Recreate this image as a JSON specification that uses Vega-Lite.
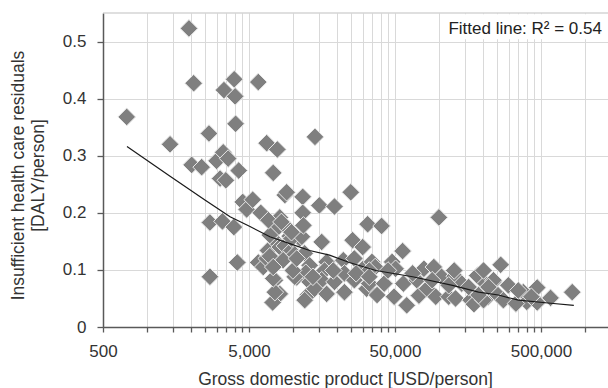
{
  "$schema": "https://vega.github.io/schema/vega-lite/v6.json",
  "width": 505,
  "height": 314,
  "autosize": {"type": "none"},
  "padding": {"left": 103, "top": 13, "right": 0, "bottom": 61},
  "background": "white",
  "config": {
    "view": {"stroke": null},
    "font": "Liberation Sans"
  },
  "datasets": {
    "points": [
      {"gdp": 727, "res": 0.368}, {"gdp": 1440, "res": 0.320}, {"gdp": 1940, "res": 0.523}, {"gdp": 2090, "res": 0.427},
      {"gdp": 2025, "res": 0.284}, {"gdp": 2370, "res": 0.280}, {"gdp": 2660, "res": 0.339}, {"gdp": 2700, "res": 0.183},
      {"gdp": 2700, "res": 0.088}, {"gdp": 3000, "res": 0.291}, {"gdp": 3290, "res": 0.185}, {"gdp": 3330, "res": 0.306},
      {"gdp": 3370, "res": 0.415}, {"gdp": 3170, "res": 0.260}, {"gdp": 3470, "res": 0.257}, {"gdp": 3600, "res": 0.295},
      {"gdp": 3960, "res": 0.434}, {"gdp": 4020, "res": 0.404}, {"gdp": 4050, "res": 0.356}, {"gdp": 3940, "res": 0.175},
      {"gdp": 4250, "res": 0.274}, {"gdp": 4160, "res": 0.113}, {"gdp": 4530, "res": 0.219}, {"gdp": 4820, "res": 0.206},
      {"gdp": 5300, "res": 0.223}, {"gdp": 5790, "res": 0.429}, {"gdp": 5790, "res": 0.113}, {"gdp": 6020, "res": 0.200},
      {"gdp": 6610, "res": 0.322}, {"gdp": 7820, "res": 0.311}, {"gdp": 7330, "res": 0.270}, {"gdp": 6260, "res": 0.105},
      {"gdp": 6610, "res": 0.120}, {"gdp": 6740, "res": 0.134}, {"gdp": 6950, "res": 0.124}, {"gdp": 7520, "res": 0.082},
      {"gdp": 8130, "res": 0.058}, {"gdp": 7260, "res": 0.043}, {"gdp": 7520, "res": 0.061}, {"gdp": 7330, "res": 0.085},
      {"gdp": 7740, "res": 0.148}, {"gdp": 8130, "res": 0.140}, {"gdp": 8800, "res": 0.142}, {"gdp": 7740, "res": 0.172},
      {"gdp": 9290, "res": 0.172}, {"gdp": 8130, "res": 0.192}, {"gdp": 8800, "res": 0.231}, {"gdp": 9060, "res": 0.236},
      {"gdp": 9510, "res": 0.159}, {"gdp": 9780, "res": 0.134}, {"gdp": 10290, "res": 0.127}, {"gdp": 10620, "res": 0.087},
      {"gdp": 11670, "res": 0.228}, {"gdp": 11670, "res": 0.200}, {"gdp": 11130, "res": 0.155}, {"gdp": 12040, "res": 0.129},
      {"gdp": 13020, "res": 0.108}, {"gdp": 12250, "res": 0.095}, {"gdp": 10290, "res": 0.088}, {"gdp": 13020, "res": 0.079},
      {"gdp": 12680, "res": 0.056}, {"gdp": 12040, "res": 0.047}, {"gdp": 14160, "res": 0.333}, {"gdp": 15170, "res": 0.213},
      {"gdp": 15740, "res": 0.149}, {"gdp": 17020, "res": 0.114}, {"gdp": 16470, "res": 0.099}, {"gdp": 15740, "res": 0.082},
      {"gdp": 14080, "res": 0.067}, {"gdp": 17020, "res": 0.058}, {"gdp": 19260, "res": 0.211}, {"gdp": 19260, "res": 0.079},
      {"gdp": 22130, "res": 0.117}, {"gdp": 22540, "res": 0.094}, {"gdp": 22540, "res": 0.061}, {"gdp": 24900, "res": 0.236},
      {"gdp": 25650, "res": 0.152}, {"gdp": 26360, "res": 0.120}, {"gdp": 26360, "res": 0.082}, {"gdp": 30060, "res": 0.140},
      {"gdp": 30270, "res": 0.102}, {"gdp": 32500, "res": 0.180}, {"gdp": 32000, "res": 0.067}, {"gdp": 33350, "res": 0.076},
      {"gdp": 34800, "res": 0.114}, {"gdp": 36600, "res": 0.105}, {"gdp": 37700, "res": 0.056}, {"gdp": 40500, "res": 0.177},
      {"gdp": 42180, "res": 0.076}, {"gdp": 47800, "res": 0.114}, {"gdp": 50500, "res": 0.102}, {"gdp": 49340, "res": 0.053},
      {"gdp": 56400, "res": 0.133}, {"gdp": 57100, "res": 0.076}, {"gdp": 60200, "res": 0.038}, {"gdp": 70600, "res": 0.082},
      {"gdp": 73000, "res": 0.055}, {"gdp": 78950, "res": 0.102}, {"gdp": 83100, "res": 0.067}, {"gdp": 92340, "res": 0.105},
      {"gdp": 95200, "res": 0.053}, {"gdp": 100000, "res": 0.192}, {"gdp": 104300, "res": 0.088}, {"gdp": 116800, "res": 0.053},
      {"gdp": 128300, "res": 0.089}, {"gdp": 130000, "res": 0.050}, {"gdp": 143500, "res": 0.076}, {"gdp": 165000, "res": 0.047},
      {"gdp": 173800, "res": 0.040}, {"gdp": 183000, "res": 0.090}, {"gdp": 209000, "res": 0.076}, {"gdp": 218600, "res": 0.053},
      {"gdp": 249000, "res": 0.058}, {"gdp": 265000, "res": 0.109}, {"gdp": 236500, "res": 0.079}, {"gdp": 299100, "res": 0.073},
      {"gdp": 202200, "res": 0.047}, {"gdp": 276600, "res": 0.047}, {"gdp": 378400, "res": 0.061}, {"gdp": 400000, "res": 0.044},
      {"gdp": 471500, "res": 0.069}, {"gdp": 471500, "res": 0.043}, {"gdp": 582000, "res": 0.051}, {"gdp": 819000, "res": 0.061},
      {"gdp": 33350, "res": 0.099}, {"gdp": 44800, "res": 0.099}, {"gdp": 66100, "res": 0.094}, {"gdp": 89900, "res": 0.082},
      {"gdp": 116800, "res": 0.073}, {"gdp": 159800, "res": 0.070}, {"gdp": 186900, "res": 0.056}, {"gdp": 127300, "res": 0.099},
      {"gdp": 202200, "res": 0.099}, {"gdp": 236500, "res": 0.082}, {"gdp": 218600, "res": 0.070}, {"gdp": 337000, "res": 0.041},
      {"gdp": 430000, "res": 0.053}, {"gdp": 349900, "res": 0.064}, {"gdp": 10000, "res": 0.099}, {"gdp": 13700, "res": 0.088},
      {"gdp": 18900, "res": 0.099}, {"gdp": 27100, "res": 0.094}, {"gdp": 33350, "res": 0.088}, {"gdp": 8570, "res": 0.117},
      {"gdp": 10620, "res": 0.120}, {"gdp": 7330, "res": 0.105}, {"gdp": 9780, "res": 0.155}, {"gdp": 6950, "res": 0.161},
      {"gdp": 11520, "res": 0.158}, {"gdp": 6800, "res": 0.187}, {"gdp": 8340, "res": 0.184}, {"gdp": 11800, "res": 0.178},
      {"gdp": 9780, "res": 0.166}
    ],
    "fit": [
      {"gdp": 730, "res": 0.316}, {"gdp": 1440, "res": 0.264}, {"gdp": 2510, "res": 0.222}, {"gdp": 3710, "res": 0.193},
      {"gdp": 5080, "res": 0.176}, {"gdp": 6950, "res": 0.158}, {"gdp": 9510, "res": 0.146}, {"gdp": 13020, "res": 0.134},
      {"gdp": 17810, "res": 0.126}, {"gdp": 24370, "res": 0.113}, {"gdp": 37000, "res": 0.099}, {"gdp": 66100, "res": 0.088},
      {"gdp": 124000, "res": 0.073}, {"gdp": 186900, "res": 0.061}, {"gdp": 255700, "res": 0.056}, {"gdp": 349900, "res": 0.047},
      {"gdp": 559900, "res": 0.042}, {"gdp": 840000, "res": 0.038}
    ]
  },
  "layer": [
    {
      "data": {"name": "points"},
      "mark": {"type": "point", "shape": "diamond", "size": 310, "filled": true, "fill": "#7f7f7f", "stroke": "#e8e8e8", "strokeWidth": 1, "opacity": 1},
      "encoding": {
        "x": {
          "field": "gdp",
          "type": "quantitative",
          "scale": {"type": "log", "domain": [500, 1440000], "nice": false},
          "axis": {
            "title": "Gross domestic product [USD/person]",
            "values": [500, 1000, 1500, 2000, 2500, 3000, 3500, 4000, 4500, 5000, 10000, 15000, 20000, 25000, 30000, 35000, 40000, 45000, 50000, 100000, 150000, 200000, 250000, 300000, 350000, 400000, 450000, 500000, 1000000],
            "labelExpr": "indexof([500, 5000, 50000, 500000], datum.value) >= 0 ? format(datum.value, ',') : ''",
            "labelOverlap": false,
            "labelFlush": false,
            "grid": true,
            "gridColor": "#d9d9d9",
            "gridWidth": 1,
            "domainColor": "#595959",
            "domainWidth": 1.5,
            "tickColor": "#595959",
            "tickWidth": 1.3,
            "tickSize": 5,
            "labelFontSize": 17,
            "labelColor": "#333333",
            "labelBaseline": "alphabetic",
            "labelPadding": 24,
            "titleFontSize": 17.5,
            "titleFontWeight": "normal",
            "titleColor": "#333333",
            "titleX": 242,
            "titleY": 57,
            "titleAlign": "center",
            "titleBaseline": "alphabetic"
          }
        },
        "y": {
          "field": "res",
          "type": "quantitative",
          "scale": {"domain": [0, 0.55], "nice": false},
          "axis": {
            "title": ["Insufficient health care residuals", "[DALY/person]"],
            "values": [0, 0.1, 0.2, 0.3, 0.4, 0.5],
            "format": ".1~f",
            "grid": true,
            "gridColor": "#d9d9d9",
            "gridWidth": 1,
            "domainColor": "#595959",
            "domainWidth": 1.5,
            "tickColor": "#595959",
            "tickWidth": 1.3,
            "tickSize": 6,
            "labelFontSize": 17,
            "labelColor": "#333333",
            "labelPadding": 11,
            "titleFontSize": 17.5,
            "titleFontWeight": "normal",
            "titleColor": "#333333",
            "titleLineHeight": 20,
            "titleX": -80,
            "titleY": 162,
            "titleAngle": 270,
            "titleAlign": "center",
            "titleBaseline": "alphabetic"
          }
        }
      }
    },
    {
      "data": {"name": "fit"},
      "mark": {"type": "line", "color": "#1a1a1a", "strokeWidth": 1.2},
      "encoding": {
        "x": {"field": "gdp", "type": "quantitative"},
        "y": {"field": "res", "type": "quantitative"}
      }
    },
    {
      "data": {"values": [{"label": "Fitted line: R² = 0.54"}]},
      "mark": {"type": "rect", "fill": "white"},
      "encoding": {
        "x": {"datum": 107000},
        "x2": {"datum": 1440000},
        "y": {"datum": 0.504},
        "y2": {"datum": 0.548}
      }
    },
    {
      "data": {"values": [{"label": "Fitted line: R² = 0.54"}]},
      "mark": {"type": "rule", "color": "#bfbfbf", "strokeWidth": 1},
      "encoding": {
        "y": {"datum": 0.55}
      }
    },
    {
      "data": {"values": [{"label": "Fitted line: R² = 0.54"}]},
      "mark": {"type": "text", "align": "right", "baseline": "alphabetic", "fontSize": 17, "color": "#222222"},
      "encoding": {
        "text": {"field": "label", "type": "nominal"},
        "x": {"datum": 1309000},
        "y": {"datum": 0.514}
      }
    }
  ]
}
